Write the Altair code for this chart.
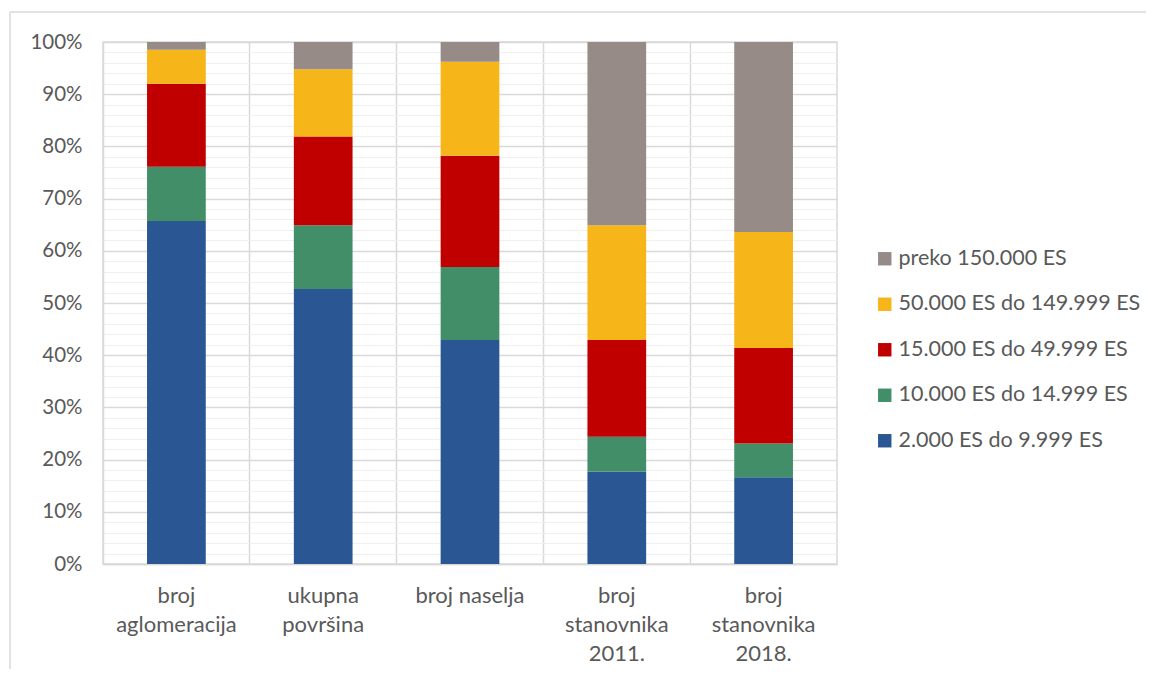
import altair as alt
import pandas as pd

categories = ["broj\naglomeracija", "ukupna\npovršina", "broj naselja",
              "broj\nstanovnika\n2011.", "broj\nstanovnika\n2018."]
series = ["2.000 ES do 9.999 ES", "10.000 ES do 14.999 ES", "15.000 ES do 49.999 ES",
          "50.000 ES do 149.999 ES", "preko 150.000 ES"]
colors = ["#2A5694", "#418E68", "#C00000", "#F6B518", "#978B88"]

s_2000 = [65.7, 52.7, 42.9, 17.7, 16.6]
s_10000 = [10.4, 12.2, 14.0, 6.7, 6.5]
s_15000 = [15.9, 17.0, 21.3, 18.5, 18.3]
s_50000 = [6.5, 12.9, 18.0, 22.0, 22.2]
s_150000 = [1.5, 5.2, 3.8, 35.1, 36.4]

values = [s_2000, s_10000, s_15000, s_50000, s_150000]
rows = []
for si, (name, vals) in enumerate(zip(series, values)):
    for ci, cat in enumerate(categories):
        rows.append({"cat": cat, "series": name, "order": si, "value": vals[ci]})
df = pd.DataFrame(rows)

FONT = "Lato"
TXT = "#595959"

y_ticks = [i / 50 for i in range(51)]

bars = alt.Chart(df).mark_bar(width={"band": 0.4}).encode(
    x=alt.X("cat:N", sort=categories, title=None,
            scale=alt.Scale(paddingInner=0, paddingOuter=0),
            axis=alt.Axis(labelAngle=0, labelExpr="split(datum.label, '\\n')",
                          labelLineHeight=29, labelPadding=21, ticks=False,
                          domainColor="#D9D9D9", domainWidth=1.5,
                          grid=True, gridColor="#D9D9D9", gridWidth=1.5,
                          bandPosition=0, labelFontSize=22, labelColor=TXT,
                          labelFont=FONT, labelLimit=300)),
    y=alt.Y("value:Q", stack="normalize", title=None,
            scale=alt.Scale(domain=[0, 1], nice=False),
            axis=alt.Axis(values=y_ticks, labelOverlap=False, domain=False, ticks=False,
                          labelExpr="round(datum.value*100) % 10 === 0 ? format(datum.value, '.0%') : ''",
                          gridColor={"condition": {"test": "round(datum.value*100) % 10 === 0", "value": "#D9D9D9"}, "value": "#EFEFEF"},
                          gridWidth={"condition": {"test": "round(datum.value*100) % 10 === 0", "value": 1.5}, "value": 1},
                          labelPadding=21, labelFontSize=20.5, labelColor=TXT, labelFont=FONT)),
    color=alt.Color("series:N", scale=alt.Scale(domain=series[::-1], range=colors[::-1]),
                    legend=alt.Legend(title=None, orient="none", legendX=771, legendY=206,
                                      symbolType="square", symbolSize=180, symbolStrokeWidth=0,
                                      labelFontSize=21.5, labelColor=TXT, labelFont=FONT,
                                      labelLimit=400, rowPadding=22.5, labelOffset=3)),
    order=alt.Order("order:Q", sort="ascending"),
)

frame_v = alt.Chart(alt.Data(values=[{}])).mark_rule(color="#D9D9D9", strokeWidth=1.5).encode(
    x=alt.value(-93), y=alt.value(-30), y2=alt.value(700))
frame_h = alt.Chart(alt.Data(values=[{}])).mark_rule(color="#D9D9D9", strokeWidth=1.5).encode(
    y=alt.value(-30), x=alt.value(-93), x2=alt.value(1043))

chart = alt.layer(bars, frame_v, frame_h).properties(
    width=734, height=522,
    autosize=alt.AutoSizeParams(type="none"),
    padding={"left": 95, "top": 34, "right": 309, "bottom": 105},
).configure_view(stroke="#D9D9D9", strokeWidth=1.5)

chart.save("out.html", embed_options={"renderer": "svg", "actions": False})
